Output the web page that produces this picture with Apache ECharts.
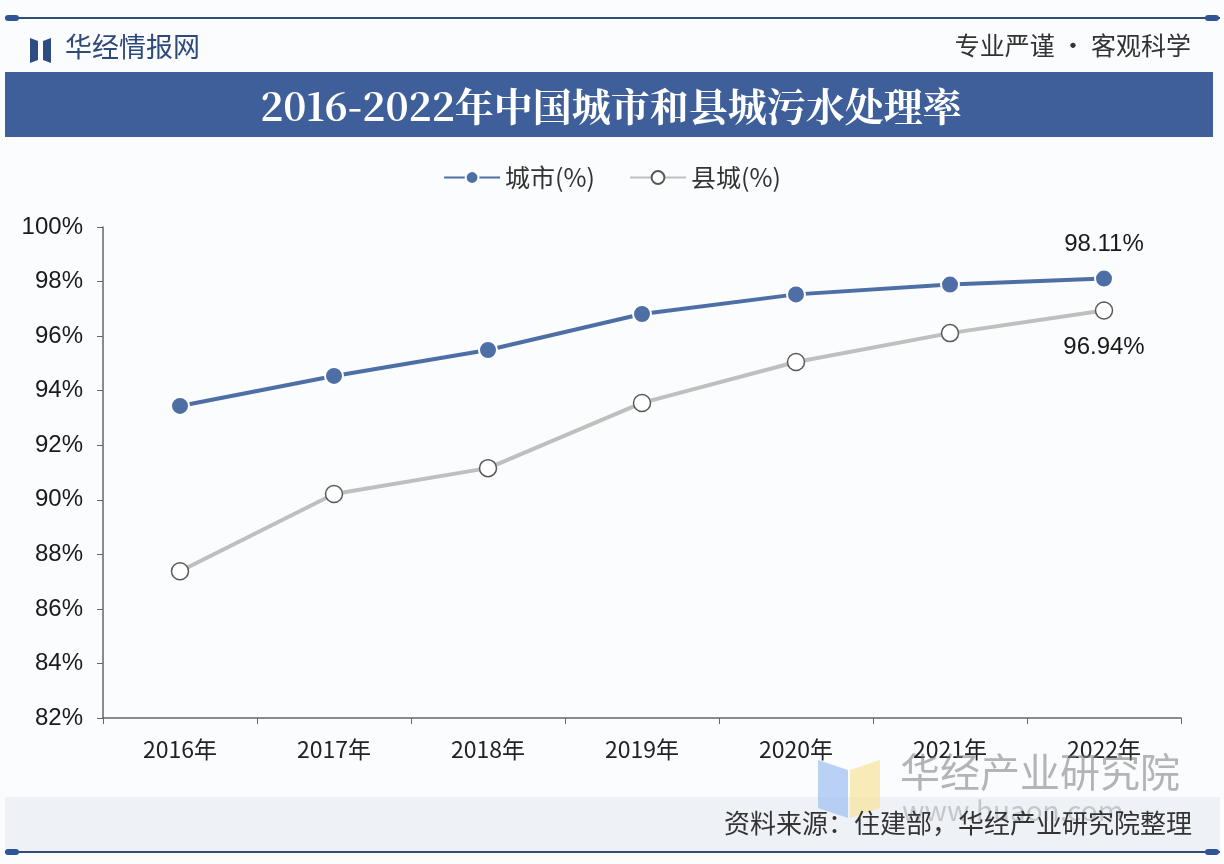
<!DOCTYPE html>
<html><head><meta charset="utf-8">
<script src="https://cdn.jsdelivr.net/npm/echarts@6/dist/echarts.min.js"></script>
<style>html,body{margin:0;padding:0;background:#fbfcfe}#c{width:1224px;height:864px}</style>
</head><body><div id="c"></div>
<script>
const categories = ['2016年','2017年','2018年','2019年','2020年','2021年','2022年'];
const cityValues = [93.44, 94.54, 95.49, 96.81, 97.53, 97.89, 98.11];
const countyValues = [87.38, 90.21, 91.16, 93.55, 95.05, 96.11, 96.94];
const seriesNames = ['城市(%)', '县城(%)'];
const titleText = '2016-2022年中国城市和县城污水处理率';
const sourceText = '资料来源：住建部，华经产业研究院整理';

const chart = echarts.init(document.getElementById('c'));
const font = '"Noto Sans CJK SC", "Noto Sans", sans-serif';
const numFont = 'Arial, "Liberation Sans", sans-serif';
chart.setOption({
  backgroundColor: '#fbfcfe',
  animation: false,
  graphic: [
    {type:'rect', shape:{x:5,y:797,width:1215,height:55}, style:{fill:'#eef1f6'}, z:-10},
    {type:'line', shape:{x1:5,y1:18,x2:1220,y2:18}, style:{stroke:'#2f4f78',lineWidth:2}},
    {type:'rect', shape:{x:5,y:15,width:14,height:6,r:3}, style:{fill:'#2f5597'}},
    {type:'rect', shape:{x:1205,y:15,width:14,height:6,r:3}, style:{fill:'#2f5597'}},
    {type:'line', shape:{x1:5,y1:852,x2:1220,y2:852}, style:{stroke:'#2f4f78',lineWidth:2}},
    {type:'rect', shape:{x:5,y:849,width:14,height:6,r:3}, style:{fill:'#2f5597'}},
    {type:'rect', shape:{x:1205,y:849,width:14,height:6,r:3}, style:{fill:'#2f5597'}},
    {type:'polygon', shape:{points:[[30,38],[38,41],[38,60],[30,63]]}, style:{fill:'#2e4c82'}},
    {type:'polygon', shape:{points:[[43,41],[51,38],[51,63],[43,60]]}, style:{fill:'#2e4c82'}},
    {type:'text', left:65, top:33, style:{text:'华经情报网', font:'27px '+font, fill:'#2e4a78'}},
    {type:'text', right:33, top:33, style:{text:'专业严谨 • 客观科学', font:'25px '+font, fill:'#333'}},
    {type:'rect', shape:{x:5,y:72,width:1208,height:65}, style:{fill:'#3e5f99'}},
    {type:'text', x:611, y:106, style:{text:titleText, font:'bold 39px "Noto Serif CJK SC", "Noto Sans CJK SC", serif', fill:'#fff', align:'center', verticalAlign:'middle'}},
    {type:'polygon', shape:{points:[[818,760],[848,770],[848,818],[818,808]]}, style:{fill:'#a9c6f2',opacity:0.8}, z:20},
    {type:'polygon', shape:{points:[[850,770],[880,760],[880,808],[850,818]]}, style:{fill:'#f7e6a6',opacity:0.8}, z:20},
    {type:'text', left:900, top:752, style:{text:'华经产业研究院', font:'40px '+font, fill:'rgba(120,120,120,0.55)'}, z:20},
    {type:'text', left:902, top:796, style:{text:'www.huaon.com', font:'28px '+font, fill:'rgba(120,120,120,0.35)'}, z:20},
    {type:'text', right:32, top:810, style:{text:sourceText, font:'26px '+font, fill:'#333'}, z:30}
  ],
  legend: {
    top: 160, left: 'center', itemGap: 34, itemWidth: 56, itemHeight: 16,
    textStyle: {fontSize: 25, color: '#333', fontFamily: font},
    data: seriesNames
  },
  grid: {left: 103, right: 43, top: 227, bottom: 146},
  xAxis: {
    type: 'category', data: categories, boundaryGap: true,
    axisLine: {lineStyle: {color: '#666', width: 1.5}},
    axisTick: {show: true, length: 6, lineStyle: {color: '#666'}},
    axisLabel: {fontSize: 23, color: '#222', margin: 20, fontFamily: font}
  },
  yAxis: {
    type: 'value', min: 82, max: 100, interval: 2,
    axisLine: {show: true, lineStyle: {color: '#666', width: 1.5}},
    axisTick: {show: true, length: 6, lineStyle: {color: '#666'}},
    splitLine: {show: false},
    axisLabel: {fontSize: 24, color: '#1a1a1a', margin: 20, fontFamily: numFont, formatter: '{value}%'}
  },
  series: [
    {
      name: seriesNames[0], type: 'line', data: cityValues,
      symbol: 'circle', symbolSize: 18,
      lineStyle: {color: '#4d6fa6', width: 4},
      itemStyle: {color: '#4d6fa6', borderColor: '#fff', borderWidth: 2},
      label: {show: true, position: 'top', distance: 12, fontSize: 24, color: '#1a1a1a', fontFamily: numFont,
        formatter: p => p.dataIndex === cityValues.length - 1 ? p.value.toFixed(2) + '%' : ''},
      z: 3
    },
    {
      name: seriesNames[1], type: 'line', data: countyValues,
      symbol: 'circle', symbolSize: 17,
      lineStyle: {color: '#bfbfbf', width: 4},
      itemStyle: {color: '#fff', borderColor: '#595959', borderWidth: 1.5},
      label: {show: true, position: 'bottom', distance: 16, fontSize: 24, color: '#1a1a1a', fontFamily: numFont,
        formatter: p => p.dataIndex === countyValues.length - 1 ? p.value.toFixed(2) + '%' : ''},
      z: 2
    }
  ]
});
</script></body></html>
